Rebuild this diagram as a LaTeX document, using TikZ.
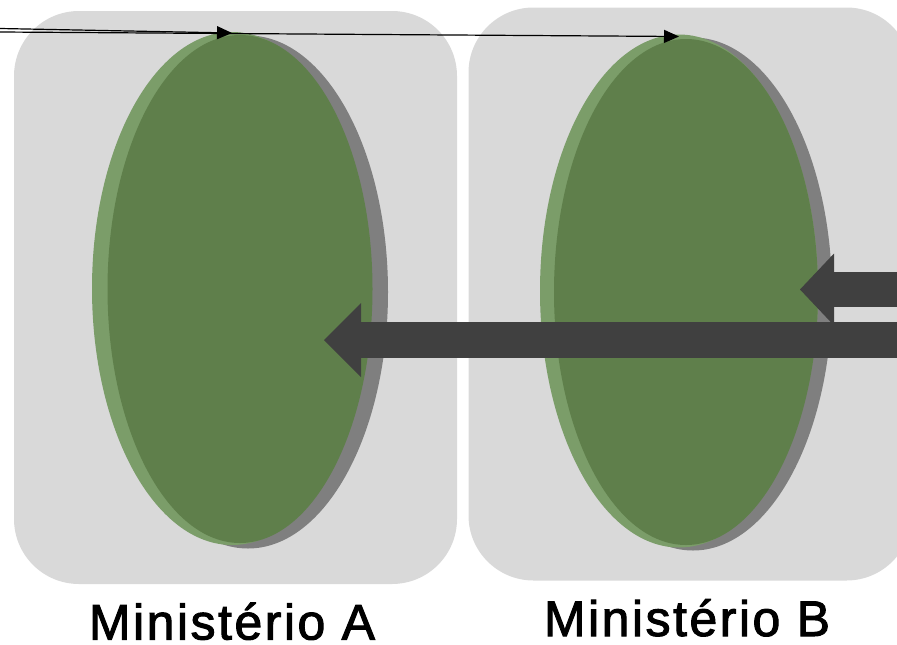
\documentclass[tikz,border=0pt]{standalone}
\usepackage{fontspec}
\setmainfont{Liberation Sans}
\usepackage{xcolor}
\usetikzlibrary{arrows.meta,positioning,shapes.geometric}
\definecolor{panelgray}{HTML}{D9D9D9}
\definecolor{leafgreen}{HTML}{7B9D69}
\definecolor{coregreen}{HTML}{5F7F4B}
\definecolor{shadegray}{HTML}{7F7F7F}
\definecolor{bargray}{HTML}{404040}

\begin{document}
\begin{tikzpicture}[
	x=1pt, y=-1pt,
	every node/.style={inner sep=0pt, outer sep=0pt},
	panel/.style={fill=panelgray, rounded corners=65pt, minimum width=443pt, minimum height=573pt},
	disc/.style={ellipse, minimum width=280pt, minimum height=513pt},
	core/.style={ellipse, fill=coregreen, minimum width=265pt, minimum height=508pt},
	deptname/.style={font=\fontsize{50}{60}\selectfont\addfontfeatures{LetterSpace=5,FakeBold=2}, anchor=base},
	feed/.style={-{Triangle[length=15pt, width=13pt]}, line width=1.2pt},
	bar/.style={draw=bargray, line width=36pt, -{Triangle[length=37pt, width=74pt, line width=0pt]}}
	]
	\useasboundingbox (0,0) rectangle (897,645);
	\clip (0,0) rectangle (897,645);
	
	% the two ministries
	\node[panel] (PanelA) at (235.5,297.5) {};
	\node[panel] (PanelB) at (690,294) {};
	
	\node[disc, fill=shadegray] (ShadeA) at (248,292) {};
	\node[disc, fill=leafgreen] (LeafA) at (232,288.5) {};
	\node[core] (CoreA) at (240,289) {};
	
	\node[disc, fill=shadegray, minimum width=278pt] (ShadeB) at (693,294) {};
	\node[disc, fill=leafgreen, minimum width=278pt] (LeafB) at (679,291) {};
	\node[core, minimum width=264pt, minimum height=506pt] (CoreB) at (686,292) {};
	
	% thin links coming in from the left
	\coordinate (InA) at (0,28.5);
	\coordinate (InB) at (0,32);
	\draw[feed] (InA) -- ([yshift=-1pt]LeafA.north);
	\draw[feed] (InB) -- ([yshift=-2pt]LeafB.north);
	
	% thick flows coming in from the right
	\coordinate (EdgeHigh) at (910,289.5);
	\coordinate (TipB) at (800,289.5);
	\coordinate (EdgeLow) at (910,340);
	\coordinate (TipA) at (324,340);
	\draw[bar, line width=35pt, -{Triangle[length=34pt, width=72pt, line width=0pt]}] (EdgeHigh) -- (TipB);
	\draw[bar] (EdgeLow) -- (TipA);
	
	\node[deptname] (NameA) at (232,639.5) {Ministério A};
	\node[deptname] (NameB) at (687,636) {Ministério B};
	
\end{tikzpicture}
\end{document}
